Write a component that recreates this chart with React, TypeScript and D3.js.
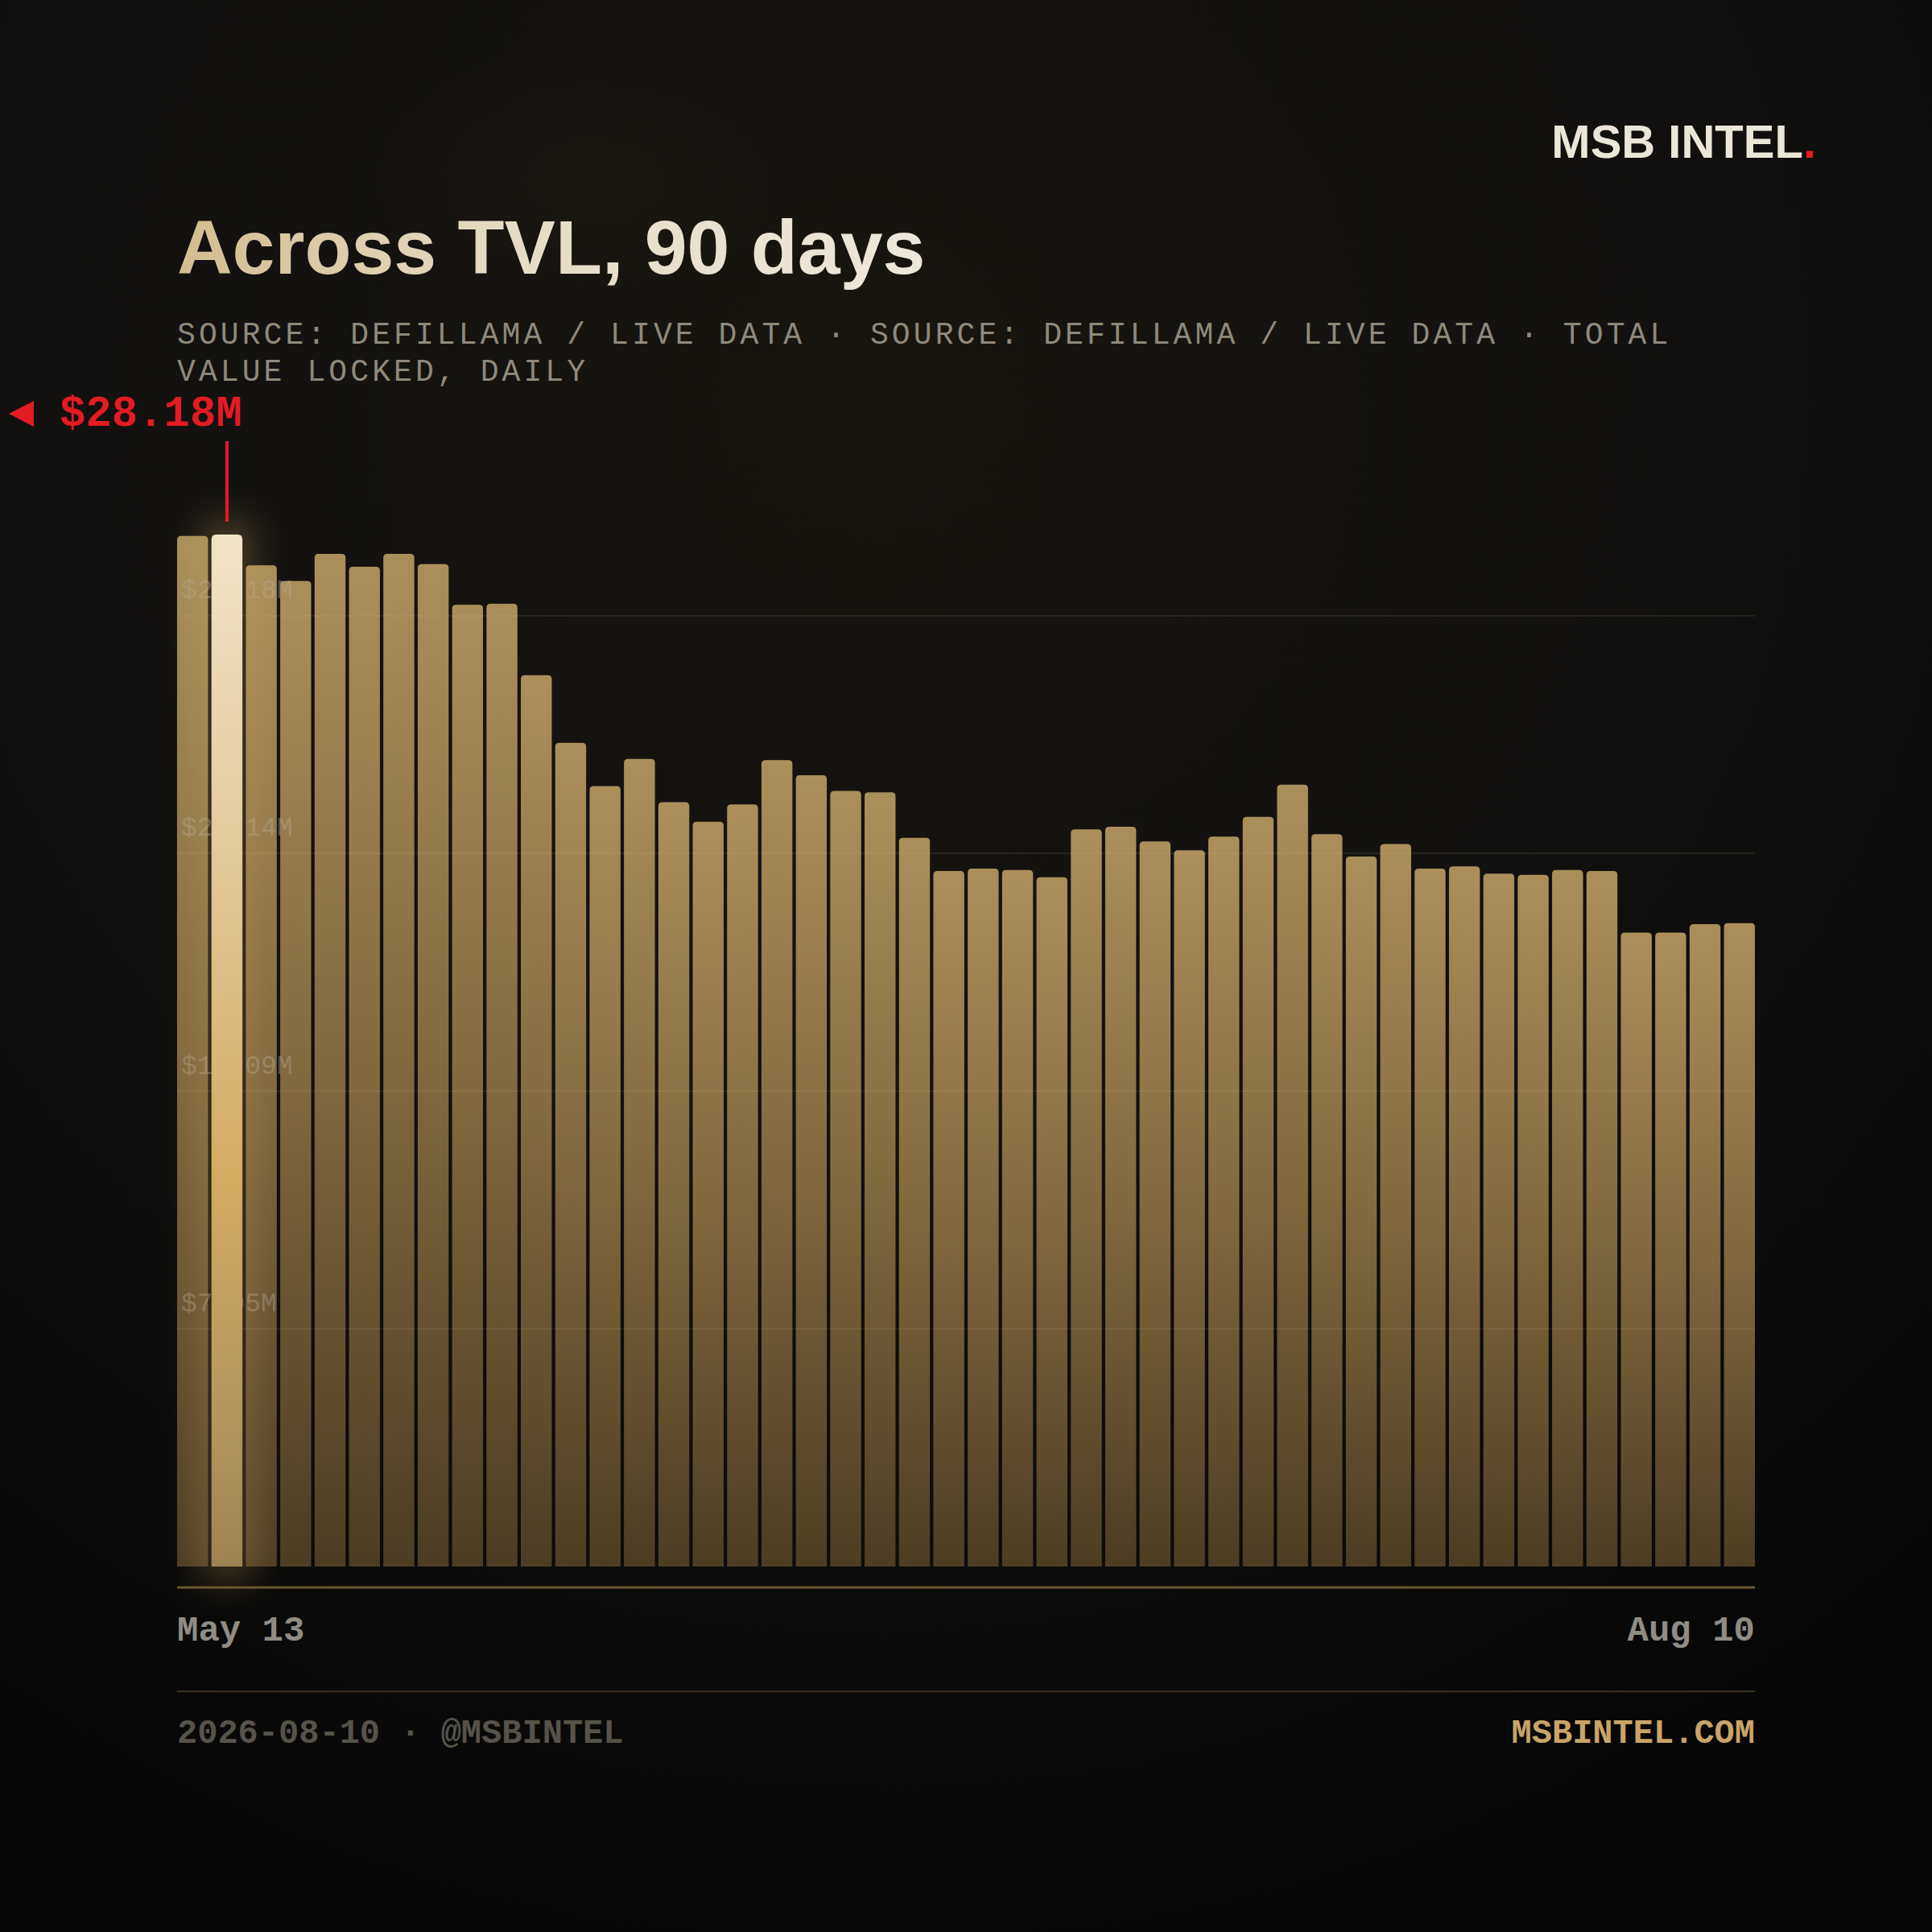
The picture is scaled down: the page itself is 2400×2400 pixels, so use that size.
import React from "react";
import * as d3 from "d3";

const TITLE = "Across TVL, 90 days";
const SUBTITLE_LINES = [
  "SOURCE: DEFILLAMA / LIVE DATA · SOURCE: DEFILLAMA / LIVE DATA · TOTAL",
  "VALUE LOCKED, DAILY",
];
const BRAND = "MSB INTEL";
const FOOTER_LEFT = "2026-08-10 · @MSBINTEL";
const FOOTER_RIGHT = "MSBINTEL.COM";

// TVL in $M, sampled across the 90 days
const tvlValues = [
  28.14, 28.18, 27.34, 26.91, 27.65, 27.3, 27.65, 27.37, 26.26, 26.29,
  24.34, 22.49, 21.31, 22.05, 20.87, 20.34, 20.81, 22.02, 21.61, 21.18,
  21.14, 19.9, 18.99, 19.06, 19.02, 18.82, 20.13, 20.2, 19.8, 19.56,
  19.93, 20.47, 21.35, 20.0, 19.39, 19.73, 19.06, 19.12, 18.92, 18.89,
  19.02, 18.99, 17.31, 17.31, 17.54, 17.57,
];
const xLabels = ["May 13", "Aug 10"];
const gridValues = [7.05, 14.09, 21.14, 28.18];
const gridLabels = ["$7.05M", "$14.09M", "$21.14M", "$28.18M"];
const peakLabel = "$28.18M";

const W = 2400;
const H = 2400;
const left = 220;
const right = 2180;
const baseY = 1946;
const barTopY = 664;
const gridTopY = 765;

const MONO = "'Liberation Mono', 'DejaVu Sans Mono', monospace";
const SANS = "'Liberation Sans', Arial, sans-serif";

function barPath(x: number, y: number, w: number, h: number, r: number) {
  const rr = Math.min(r, h / 2, w / 2);
  return `M${x},${y + h}V${y + rr}Q${x},${y} ${x + rr},${y}H${x + w - rr}Q${x + w},${y} ${x + w},${y + rr}V${y + h}Z`;
}

export default function App() {
  const idx = d3.range(tvlValues.length);
  const maxV = d3.max(tvlValues) as number;
  const peakIdx = tvlValues.indexOf(maxV);

  const x = d3
    .scaleBand<number>()
    .domain(idx)
    .range([left, right])
    .paddingInner(0.1)
    .paddingOuter(0);
  const yBar = d3.scaleLinear().domain([0, maxV]).range([baseY, barTopY]);
  const yGrid = d3.scaleLinear().domain([0, 28.18]).range([baseY, gridTopY]);

  const bw = x.bandwidth();
  const px = (x(peakIdx) as number) + bw / 2;
  const py = yBar(maxV);

  return (
    <svg
      width={W}
      height={H}
      viewBox={`0 0 ${W} ${H}`}
      style={{ position: "absolute", left: 0, top: 0, display: "block" }}
    >
      <defs>
        <radialGradient id="bg" cx="0.45" cy="0.2" r="0.85">
          <stop offset="0" stopColor="#18150f" />
          <stop offset="0.45" stopColor="#121110" />
          <stop offset="1" stopColor="#060606" />
        </radialGradient>
        <radialGradient id="topGlow" cx="0.5" cy="0.5" r="0.5">
          <stop offset="0" stopColor="#3a3020" stopOpacity="0.15" />
          <stop offset="1" stopColor="#3a3020" stopOpacity="0" />
        </radialGradient>
        <linearGradient id="barGrad" x1="0" y1="0" x2="0" y2="1">
          <stop offset="0" stopColor="#ab8f5b" />
          <stop offset="0.5" stopColor="#826a3f" />
          <stop offset="1" stopColor="#4c3d22" />
        </linearGradient>
        <linearGradient id="peakGrad" x1="0" y1="0" x2="0" y2="1">
          <stop offset="0" stopColor="#f1e4c6" />
          <stop offset="0.3" stopColor="#e3ca9c" />
          <stop offset="0.62" stopColor="#d4ab62" />
          <stop offset="0.85" stopColor="#b4965e" />
          <stop offset="1" stopColor="#9e8352" />
        </linearGradient>
        <linearGradient id="titleGrad" x1="0" y1="0" x2="1" y2="0">
          <stop offset="0" stopColor="#d3bd90" />
          <stop offset="0.45" stopColor="#e6dcc6" />
          <stop offset="1" stopColor="#ede7db" />
        </linearGradient>
        <filter id="glow" x="-200%" y="-20%" width="500%" height="140%">
          <feGaussianBlur stdDeviation="22" />
        </filter>
      </defs>

      <rect x={0} y={0} width={W} height={H} fill="url(#bg)" />
      <ellipse cx={720} cy={220} rx={260} ry={160} fill="url(#topGlow)" />

      {/* brand */}
      <text
        x={2256}
        y={196}
        textAnchor="end"
        fontFamily={SANS}
        fontWeight={700}
        fontSize={58}
        fill="#ece6d9"
      >
        {BRAND}
        <tspan fill="#e31b23">.</tspan>
      </text>

      {/* title */}
      <text
        x={220}
        y={340}
        fontFamily={SANS}
        fontWeight={700}
        fontSize={95}
        fill="url(#titleGrad)"
      >
        {TITLE}
      </text>

      {/* subtitle */}
      {SUBTITLE_LINES.map((line, i) => (
        <text
          key={i}
          x={220}
          y={427 + i * 46}
          fontFamily={MONO}
          fontSize={38}
          letterSpacing={4.1}
          fill="#8f897c"
        >
          {line}
        </text>
      ))}

      {/* regular bars */}
      <g>
        {tvlValues.map((v, i) =>
          i === peakIdx ? null : (
            <path
              key={i}
              d={barPath(x(i) as number, yBar(v), bw, baseY - yBar(v), 5)}
              fill="url(#barGrad)"
            />
          )
        )}
      </g>

      {/* grid */}
      <g>
        {gridValues.map((g, i) => (
          <g key={i}>
            <line
              x1={left}
              x2={right}
              y1={yGrid(g)}
              y2={yGrid(g)}
              stroke="#d8c090"
              strokeOpacity={0.1}
              strokeWidth={2}
            />
            <text
              x={left + 5}
              y={yGrid(g) - 22}
              fontFamily={MONO}
              fontSize={33}
              fill="#b8b2a4"
              fillOpacity={0.38}
            >
              {gridLabels[i]}
            </text>
          </g>
        ))}
      </g>

      {/* peak bar with glow */}
      <rect
        x={(x(peakIdx) as number) - 14}
        y={py - 20}
        width={bw + 28}
        height={baseY - py + 40}
        fill="#c9a45c"
        opacity={0.28}
        filter="url(#glow)"
      />
      <path
        d={barPath(x(peakIdx) as number, py, bw, baseY - py, 6)}
        fill="url(#peakGrad)"
      />

      {/* peak annotation */}
      <line x1={px} x2={px} y1={py - 116} y2={py - 16} stroke="#e31b23" strokeWidth={4} />
      <path d="M11,514L42,498L42,530Z" fill="#e31b23" />
      <text x={74} y={529} fontFamily={MONO} fontWeight={700} fontSize={54} fill="#e31b23">
        {peakLabel}
      </text>

      {/* axis line */}
      <line x1={left} x2={right} y1={1972} y2={1972} stroke="#6b5630" strokeWidth={3} />

      {/* x labels */}
      <text x={left} y={2038} fontFamily={MONO} fontWeight={700} fontSize={44} fill="#8f8c84">
        {xLabels[0]}
      </text>
      <text
        x={right}
        y={2038}
        textAnchor="end"
        fontFamily={MONO}
        fontWeight={700}
        fontSize={44}
        fill="#8f8c84"
      >
        {xLabels[1]}
      </text>

      {/* footer */}
      <line x1={left} x2={right} y1={2101} y2={2101} stroke="#4a3d24" strokeWidth={1.5} />
      <text x={left} y={2165} fontFamily={MONO} fontWeight={700} fontSize={42} fill="#57534a">
        {FOOTER_LEFT}
      </text>
      <text
        x={right}
        y={2165}
        textAnchor="end"
        fontFamily={MONO}
        fontWeight={700}
        fontSize={42}
        fill="#c9a467"
      >
        {FOOTER_RIGHT}
      </text>
    </svg>
  );
}
